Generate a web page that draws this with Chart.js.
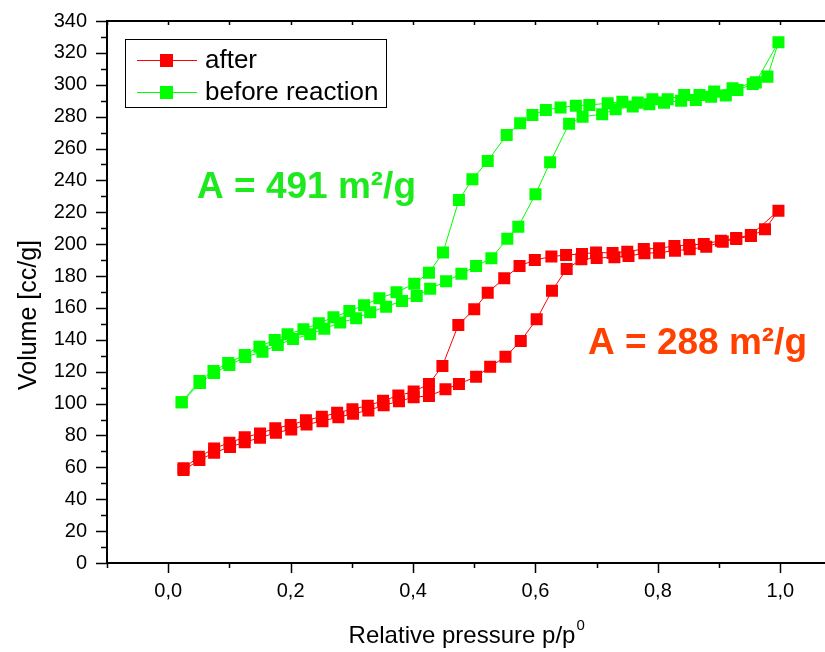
<!DOCTYPE html>
<html>
<head>
<meta charset="utf-8">
<script src="https://cdn.jsdelivr.net/npm/chart.js@4"></script>
<style>
  html, body { margin: 0; padding: 0; background: #fff; overflow: hidden; }
</style>
</head>
<body>
<canvas id="myChart" width="850" height="652"></canvas>
<script>
// Isotherm data (adsorption up, then desorption back down)
const afterX = [0.025, 0.051, 0.075, 0.101, 0.125, 0.150, 0.176, 0.201, 0.226, 0.252, 0.278, 0.302, 0.327, 0.352, 0.377, 0.401,
  0.426, 0.453, 0.475, 0.503, 0.526, 0.551, 0.576, 0.602, 0.627, 0.651, 0.675, 0.700, 0.729, 0.752, 0.778, 0.802, 0.828,
  0.852, 0.879, 0.906, 0.928, 0.952, 0.975, 0.997,
  0.952, 0.928, 0.903, 0.875, 0.851, 0.827, 0.802, 0.777, 0.750, 0.726, 0.699, 0.676, 0.650, 0.626, 0.599, 0.574, 0.549,
  0.522, 0.500, 0.474, 0.448, 0.426, 0.401, 0.376, 0.351, 0.326, 0.301, 0.276, 0.251, 0.225, 0.200, 0.175, 0.150, 0.125,
  0.100, 0.075, 0.050, 0.025];
const afterY = [58.3, 64.6, 69.2, 72.8, 75.8, 78.6, 81.7, 83.8, 86.9, 89.0, 91.5, 93.6, 95.7, 98.9, 101.5, 104.0,
  104.8, 109.0, 112.3, 116.9, 123.1, 129.4, 139.3, 152.9, 170.8, 184.4, 190.5, 191.3, 191.8, 192.6, 194.3, 194.7, 195.9,
  196.8, 198.4, 201.6, 203.3, 205.1, 209.3, 221.0,
  205.8, 203.8, 202.2, 200.1, 199.5, 198.9, 197.4, 197.0, 195.3, 194.5, 194.8, 193.9, 193.2, 192.2, 190.1, 186.3, 178.6,
  169.6, 159.2, 149.3, 123.6, 112.3, 107.5, 105.0, 101.8, 98.7, 96.5, 94.2, 91.8, 89.5, 86.6, 84.5, 81.3, 78.8,
  75.5, 71.8, 66.6, 59.5];

const beforeX = [0.022, 0.052, 0.075, 0.100, 0.126, 0.154, 0.179, 0.204, 0.232, 0.255, 0.281, 0.307, 0.330, 0.356, 0.382,
  0.406, 0.428, 0.454, 0.479, 0.503, 0.528, 0.554, 0.572, 0.600, 0.624, 0.655, 0.677, 0.709, 0.731, 0.759, 0.786, 0.810,
  0.838, 0.862, 0.887, 0.911, 0.930, 0.955, 0.979, 0.997,
  0.960, 0.922, 0.892, 0.868, 0.843, 0.816, 0.791, 0.767, 0.742, 0.718, 0.688, 0.666, 0.641, 0.617, 0.595, 0.575, 0.553,
  0.522, 0.497, 0.475, 0.449, 0.426, 0.402, 0.373, 0.345, 0.320, 0.296, 0.270, 0.246, 0.221, 0.195, 0.174, 0.149, 0.125,
  0.098, 0.074, 0.051, 0.022];
const beforeY = [100.8, 112.9, 119.2, 124.2, 129.2, 132.6, 136.8, 140.5, 143.5, 147.0, 150.8, 153.5, 157.3, 160.8, 164.4,
  167.5, 172.1, 176.7, 181.5, 186.3, 191.2, 203.4, 211.0, 231.3, 251.4, 275.6, 280.0, 281.5, 284.6, 286.3, 287.8, 288.8,
  290.0, 290.5, 292.5, 293.2, 296.7, 300.5, 305.1, 326.7,
  301.5, 297.8, 295.7, 293.6, 293.6, 290.9, 290.9, 288.8, 289.4, 288.4, 287.3, 286.9, 285.7, 284.2, 281.0, 275.8, 268.5,
  252.2, 240.7, 227.7, 194.8, 182.1, 175.2, 169.8, 166.1, 161.7, 158.1, 154.1, 150.4, 146.6, 143.5, 139.9, 135.7, 130.5,
  125.5, 120.5, 114.2, 100.8];

const seriesNames = ['after', 'before reaction'];
const xTickLabels = ['0,0', '0,2', '0,4', '0,6', '0,8', '1,0'];
const areaNotes = ['A = 491 m²/g', 'A = 288 m²/g'];

const RED = '#ff0000';
const GREEN = '#00ff00';
const FONT = '"Liberation Sans", Arial, sans-serif';

function toPoints(xs, ys) {
    return xs.map((x, i) => ({ x: x, y: ys[i] }));
}

function xLabel(v) {
    const k = Math.round(v * 10);
    if (k < 0 || k > 10 || k % 2 !== 0) return '';
    return xTickLabels[k / 2];
}

// ticks, frame, legend and notes drawn like the Origin plot
const decor = {
    id: 'decor',
    afterDraw(chart) {
        const ctx = chart.ctx;
        const a = chart.chartArea;
        const xs = chart.scales.x;
        const ys = chart.scales.y;
        ctx.save();
        ctx.strokeStyle = '#000';
        ctx.fillStyle = '#000';

        // top frame
        ctx.lineWidth = 2;
        ctx.beginPath();
        ctx.moveTo(a.left - 1, a.top);
        ctx.lineTo(a.right, a.top);
        ctx.stroke();

        // x ticks
        xs.ticks.forEach(t => {
            const px = Math.round(xs.getPixelForValue(t.value)) + 0.5;
            const major = xLabel(t.value) !== '';
            ctx.lineWidth = 1.5;
            ctx.beginPath();
            ctx.moveTo(px, a.bottom);
            ctx.lineTo(px, a.bottom + (major ? 10 : 5));
            ctx.moveTo(px, a.top);
            ctx.lineTo(px, a.top + 4);
            ctx.stroke();
        });
        // y ticks
        ys.ticks.forEach(t => {
            const py = Math.round(ys.getPixelForValue(t.value)) + 0.5;
            const major = Math.round(t.value) % 20 === 0;
            ctx.lineWidth = 1.5;
            ctx.beginPath();
            ctx.moveTo(a.left, py);
            ctx.lineTo(a.left - (major ? 11 : 6), py);
            ctx.stroke();
        });

        // axis titles
        ctx.font = '24px ' + FONT;
        ctx.textBaseline = 'alphabetic';
        ctx.textAlign = 'left';
        const xt = 'Relative pressure p/p';
        const w = ctx.measureText(xt).width;
        const x0 = 467 - (w + 10) / 2;
        ctx.fillText(xt, x0, 643);
        ctx.font = '15px ' + FONT;
        ctx.fillText('0', x0 + w + 1, 630);

        ctx.save();
        ctx.translate(36, 315);
        ctx.rotate(-Math.PI / 2);
        ctx.font = '25px ' + FONT;
        ctx.textAlign = 'center';
        ctx.fillText('Volume [cc/g]', 0, 0);
        ctx.restore();

        // legend
        ctx.lineWidth = 1;
        ctx.strokeStyle = '#000';
        ctx.strokeRect(125.5, 39.5, 261, 68);
        const rows = [[RED, 60], [GREEN, 92]];
        rows.forEach((r, i) => {
            ctx.strokeStyle = r[0];
            ctx.lineWidth = 1;
            ctx.beginPath();
            ctx.moveTo(137, r[1] + 0.5);
            ctx.lineTo(197, r[1] + 0.5);
            ctx.stroke();
            ctx.fillStyle = r[0];
            ctx.fillRect(160, r[1] - 6, 13, 13);
            ctx.fillStyle = '#000';
            ctx.font = '26px ' + FONT;
            ctx.textBaseline = 'middle';
            ctx.fillText(seriesNames[i], 205, r[1] + 1);
        });

        // surface area notes
        ctx.textBaseline = 'alphabetic';
        ctx.font = 'bold 37px ' + FONT;
        ctx.fillStyle = '#1ee81e';
        ctx.fillText(areaNotes[0], 197, 198);
        ctx.fillStyle = '#ff4000';
        ctx.fillText(areaNotes[1], 588, 354);
        ctx.restore();
    }
};

const data = {
    datasets: [{
        label: seriesNames[0],
        data: toPoints(afterX, afterY),
        borderColor: RED,
        backgroundColor: RED,
        borderWidth: 1,
        pointStyle: 'rect',
        pointRadius: 8.5,
        pointBorderWidth: 0,
        tension: 0
    }, {
        label: seriesNames[1],
        data: toPoints(beforeX, beforeY),
        borderColor: GREEN,
        backgroundColor: GREEN,
        borderWidth: 1,
        pointStyle: 'rect',
        pointRadius: 8.5,
        pointBorderWidth: 0,
        tension: 0
    }]
};

const config = {
    type: 'scatter',
    data: data,
    options: {
        responsive: false,
        animation: false,
        showLine: true,
        layout: { padding: { top: 21, right: 8, left: 0, bottom: 0 } },
        plugins: {
            legend: { display: false },
            tooltip: { enabled: false }
        },
        scales: {
            x: {
                type: 'linear',
                min: -0.1,
                max: 1.1,
                afterFit: s => { s.height = 89; },
                ticks: {
                    stepSize: 0.1,
                    autoSkip: false,
                    maxRotation: 0,
                    padding: 0,
                    color: '#000',
                    font: { family: FONT, size: 20 },
                    callback: v => xLabel(v)
                },
                // invisible tick marks only push the labels away; real ticks come from the plugin
                grid: { display: true, drawOnChartArea: false, drawTicks: true, tickLength: 16, tickColor: 'rgba(0,0,0,0)' },
                border: { display: true, color: '#000', width: 2 }
            },
            y: {
                min: 0,
                max: 340,
                afterFit: s => { s.width = 107; },
                ticks: {
                    stepSize: 10,
                    autoSkip: false,
                    padding: 0,
                    color: '#000',
                    font: { family: FONT, size: 20 },
                    callback: v => (Math.round(v) % 20 === 0 ? v : '')
                },
                grid: { display: true, drawOnChartArea: false, drawTicks: true, tickLength: 20, tickColor: 'rgba(0,0,0,0)' },
                border: { display: true, color: '#000', width: 2 }
            }
        }
    },
    plugins: [decor]
};

var myChart = new Chart(document.getElementById('myChart'), config);
</script>
</body>
</html>
